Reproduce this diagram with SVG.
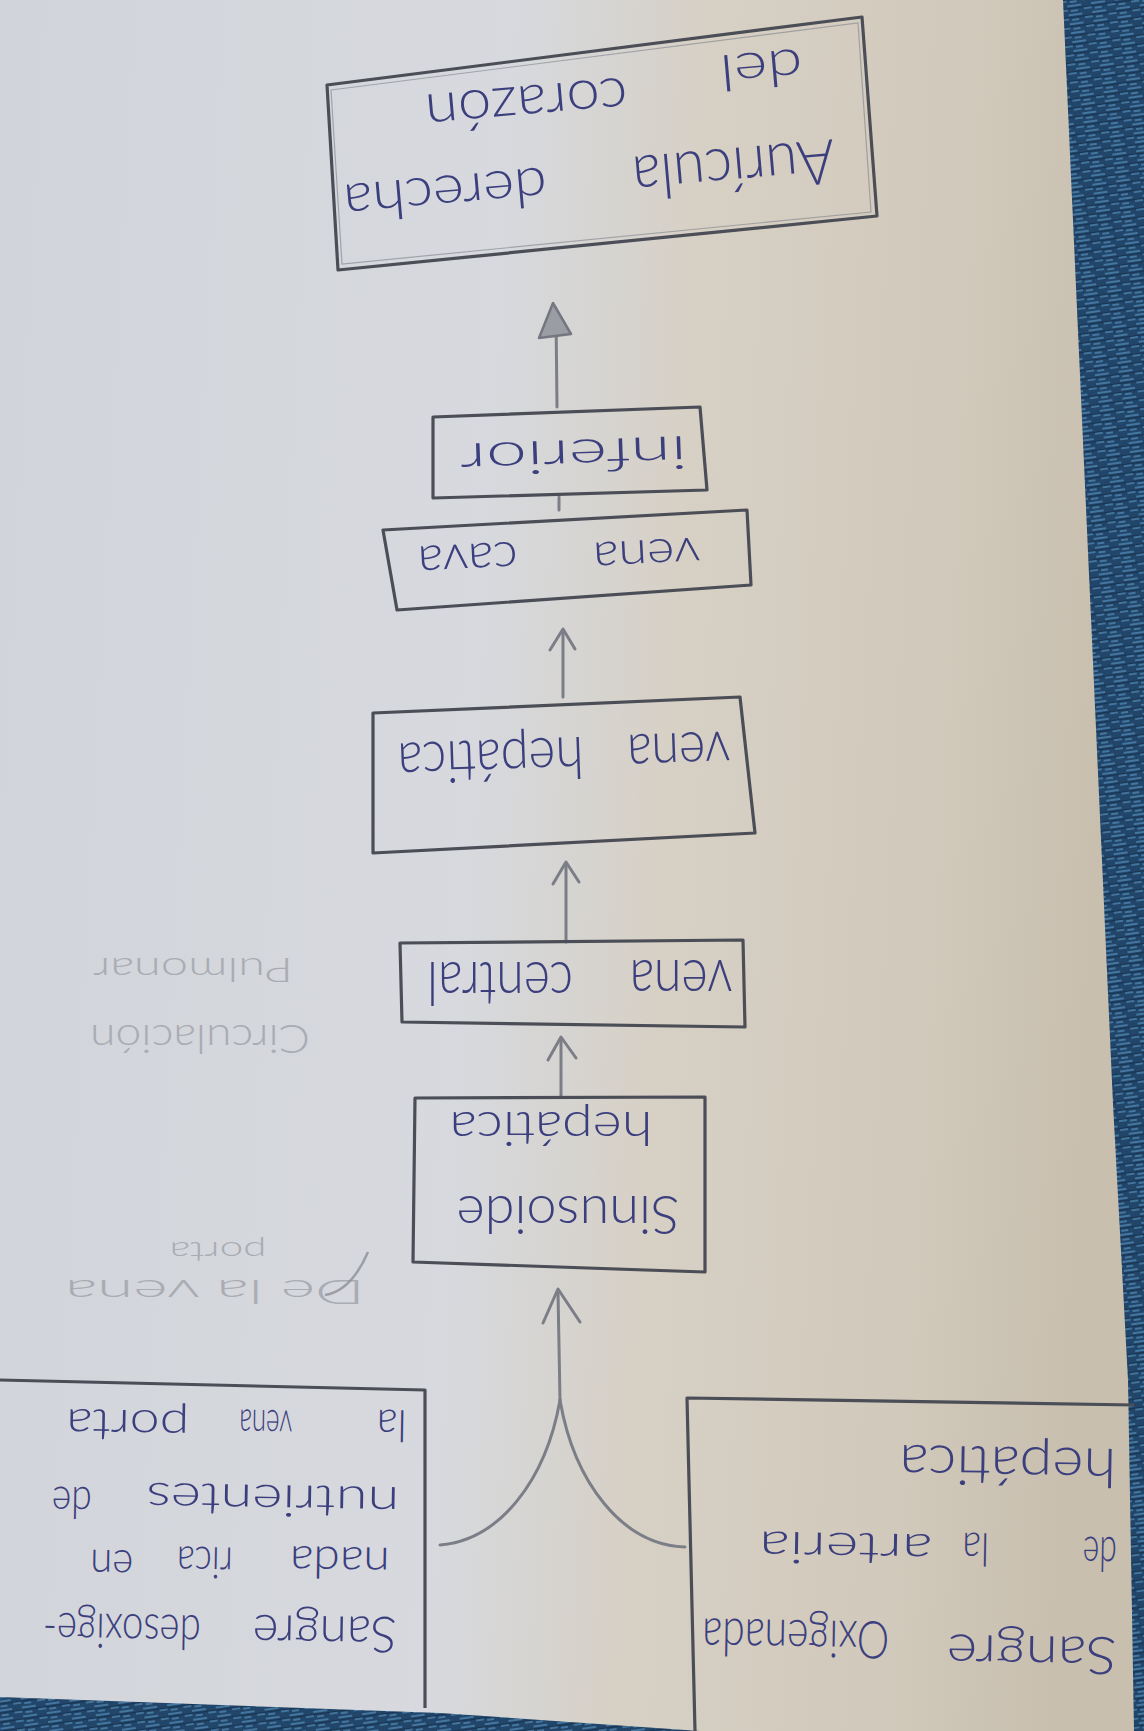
<svg xmlns="http://www.w3.org/2000/svg" width="1144" height="1731" viewBox="0 0 1144 1731">
<defs>
<linearGradient id="paper" x1="0" y1="0" x2="1" y2="0.08">
<stop offset="0" stop-color="#d1d4da"/>
<stop offset="0.45" stop-color="#d7d9de"/>
<stop offset="0.55" stop-color="#d6d4d0"/>
<stop offset="0.62" stop-color="#d7d0c5"/>
<stop offset="0.85" stop-color="#d1c9bb"/>
<stop offset="1" stop-color="#c8bfaf"/>
</linearGradient>
<pattern id="fabric" width="24" height="9" patternUnits="userSpaceOnUse" patternTransform="rotate(-8)">
<rect width="24" height="9" fill="#22466a"/>
<path d="M0,2 H14 M16,6 H24 M3,7 H10" stroke="#4f86b0" stroke-width="1.6"/>
<path d="M0,4.5 H24" stroke="#183450" stroke-width="1.2"/>
</pattern>
<style>
.box{fill:none;stroke:#4b4e56;stroke-width:3.2;stroke-linejoin:round}
.box2{fill:none;stroke:#8a8d94;stroke-width:1.2;opacity:.7}
.con{fill:none;stroke:#7b7e86;stroke-width:3;stroke-linecap:round;stroke-linejoin:round}
.ink{font-family:Lato,"Open Sans","Liberation Sans",sans-serif;font-weight:300;fill:#3c3f7d;text-anchor:middle}
.pen{font-family:Lato,"Liberation Sans",sans-serif;font-weight:300;fill:#9c9ea6;text-anchor:middle;opacity:.75}
</style>
</defs>
<rect width="1144" height="1731" fill="url(#fabric)"/>
<polygon points="0,0 1063,0 1088,552 1113,1104 1128,1380 1134,1731 700,1731 440,1713 0,1697" fill="url(#paper)"/>

<g id="connectors">
<path class="con" d="M440,1545 C500,1540 546,1480 560,1400"/>
<path class="con" d="M685,1547 C622,1545 574,1482 560,1400"/>
<path class="con" d="M560,1400 L558,1292"/>
<path class="con" d="M543,1323 L558,1289 L580,1322"/>
<path class="con" d="M561,1097 L561,1040"/>
<path class="con" d="M548,1060 L561,1037 L576,1058"/>
<path class="con" d="M566,942 L566,866"/>
<path class="con" d="M553,884 L566,862 L579,882"/>
<path class="con" d="M563,697 L563,632"/>
<path class="con" d="M550,650 L563,629 L575,649"/>
<path class="con" d="M559,510 L559,497"/>
<path class="con" d="M557,407 L556,315"/>
<path d="M553,303 L539,338 L571,334 Z" fill="#9a9da4" stroke="#74777f" stroke-width="2.5" stroke-linejoin="round"/>
</g>

<g id="node-auricula">
<polygon class="box" points="327,85 862,17 877,216 338,270"/>
<polygon class="box2" points="331,90 858,23 871,212 342,264"/>
<text class="ink" x="732" y="148" font-size="62" textLength="203" lengthAdjust="spacingAndGlyphs" transform="rotate(175 732 148)">Aurícula</text>
<text class="ink" x="444" y="176" font-size="54" textLength="204" lengthAdjust="spacingAndGlyphs" transform="rotate(175 444 176)">derecha</text>
<text class="ink" x="760" y="52" font-size="50" textLength="83" lengthAdjust="spacingAndGlyphs" transform="rotate(175 760 52)">del</text>
<text class="ink" x="525" y="86" font-size="56" textLength="203" lengthAdjust="spacingAndGlyphs" transform="rotate(175 525 86)">corazón</text>
</g>

<g id="node-inferior">
<polygon class="box" points="433,417 700,407 707,490 433,498"/>
<text class="ink" x="573" y="440" font-size="46" textLength="227" lengthAdjust="spacingAndGlyphs" transform="rotate(178 573 440)">inferior</text>
</g>

<g id="node-vena-cava">
<polygon class="box" points="383,530 747,510 751,585 397,610"/>
<text class="ink" x="646" y="540" font-size="46" textLength="107" lengthAdjust="spacingAndGlyphs" transform="rotate(177 646 540)">vena</text>
<text class="ink" x="467" y="544" font-size="48" textLength="100" lengthAdjust="spacingAndGlyphs" transform="rotate(177 467 544)">cava</text>
</g>

<g id="node-vena-hepatica">
<polygon class="box" points="373,713 740,697 755,833 373,853"/>
<text class="ink" x="678" y="733" font-size="58" textLength="103" lengthAdjust="spacingAndGlyphs" transform="rotate(178 678 733)">vena</text>
<text class="ink" x="490" y="740" font-size="58" textLength="186" lengthAdjust="spacingAndGlyphs" transform="rotate(178 490 740)">hepática</text>
</g>

<g id="node-vena-central">
<polygon class="box" points="400,943 743,940 745,1027 402,1022"/>
<text class="ink" x="681" y="960" font-size="62" textLength="103" lengthAdjust="spacingAndGlyphs" transform="rotate(180 681 960)">vena</text>
<text class="ink" x="500" y="962" font-size="62" textLength="146" lengthAdjust="spacingAndGlyphs" transform="rotate(180 500 962)">central</text>
</g>

<g id="node-sinusoide">
<polygon class="box" points="415,1098 705,1097 705,1272 413,1262"/>
<text class="ink" x="551" y="1112" font-size="48" textLength="203" lengthAdjust="spacingAndGlyphs" transform="rotate(180 551 1112)">hepática</text>
<text class="ink" x="568" y="1196" font-size="54" textLength="223" lengthAdjust="spacingAndGlyphs" transform="rotate(180 568 1196)">Sinusoide</text>
</g>

<g id="node-vena-porta">
<path class="box" d="M0,1380 L425,1390 L425,1708"/>
<text class="ink" x="325" y="1616" font-size="50" textLength="144" lengthAdjust="spacingAndGlyphs" transform="rotate(181 325 1616)">Sangre</text>
<text class="ink" x="122" y="1614" font-size="48" textLength="158" lengthAdjust="spacingAndGlyphs" transform="rotate(181 122 1614)">desoxige-</text>
<text class="ink" x="340" y="1547" font-size="44" textLength="100" lengthAdjust="spacingAndGlyphs" transform="rotate(181 340 1547)">nada</text>
<text class="ink" x="205" y="1547" font-size="44" textLength="56" lengthAdjust="spacingAndGlyphs" transform="rotate(181 205 1547)">rica</text>
<text class="ink" x="112" y="1550" font-size="44" textLength="43" lengthAdjust="spacingAndGlyphs" transform="rotate(181 112 1550)">en</text>
<text class="ink" x="273" y="1485" font-size="44" textLength="253" lengthAdjust="spacingAndGlyphs" transform="rotate(181 273 1485)">nutrientes</text>
<text class="ink" x="72" y="1487" font-size="44" textLength="40" lengthAdjust="spacingAndGlyphs" transform="rotate(181 72 1487)">de</text>
<text class="ink" x="392" y="1410" font-size="44" textLength="30" lengthAdjust="spacingAndGlyphs" transform="rotate(181 392 1410)">la</text>
<text class="ink" x="266" y="1410" font-size="42" textLength="53" lengthAdjust="spacingAndGlyphs" transform="rotate(181 266 1410)">vena</text>
<text class="ink" x="128" y="1410" font-size="44" textLength="123" lengthAdjust="spacingAndGlyphs" transform="rotate(181 128 1410)">porta</text>
</g>

<g id="node-arteria-hepatica">
<path class="box" d="M695,1731 L687,1398 L1134,1405"/>
<text class="ink" x="1032" y="1636" font-size="52" textLength="170" lengthAdjust="spacingAndGlyphs" transform="rotate(181 1032 1636)">Sangre</text>
<text class="ink" x="796" y="1620" font-size="52" textLength="187" lengthAdjust="spacingAndGlyphs" transform="rotate(181 796 1620)">Oxigenada</text>
<text class="ink" x="1100" y="1537" font-size="48" textLength="34" lengthAdjust="spacingAndGlyphs" transform="rotate(181 1100 1537)">de</text>
<text class="ink" x="976" y="1533" font-size="46" textLength="27" lengthAdjust="spacingAndGlyphs" transform="rotate(181 976 1533)">la</text>
<text class="ink" x="846" y="1533" font-size="44" textLength="173" lengthAdjust="spacingAndGlyphs" transform="rotate(181 846 1533)">arteria</text>
<text class="ink" x="1008" y="1447" font-size="54" textLength="217" lengthAdjust="spacingAndGlyphs" transform="rotate(181 1008 1447)">hepática</text>
</g>

<g id="pencil-notes">
<text class="pen" x="200" y="1025" font-size="40" textLength="220" lengthAdjust="spacingAndGlyphs" transform="rotate(180 200 1025)">Circulación</text>
<text class="pen" x="193" y="958" font-size="34" textLength="200" lengthAdjust="spacingAndGlyphs" transform="rotate(180 193 958)">Pulmonar</text>
<text class="pen" x="215" y="1280" font-size="34" textLength="300" lengthAdjust="spacingAndGlyphs" transform="rotate(180 215 1280)">De la vena</text>
<text class="pen" x="218" y="1242" font-size="28" textLength="97" lengthAdjust="spacingAndGlyphs" transform="rotate(180 218 1242)">porta</text>
<path d="M325,1295 C345,1292 358,1275 368,1252" fill="none" stroke="#8d9098" stroke-width="2.5" opacity=".8"/>
</g>
</svg>
